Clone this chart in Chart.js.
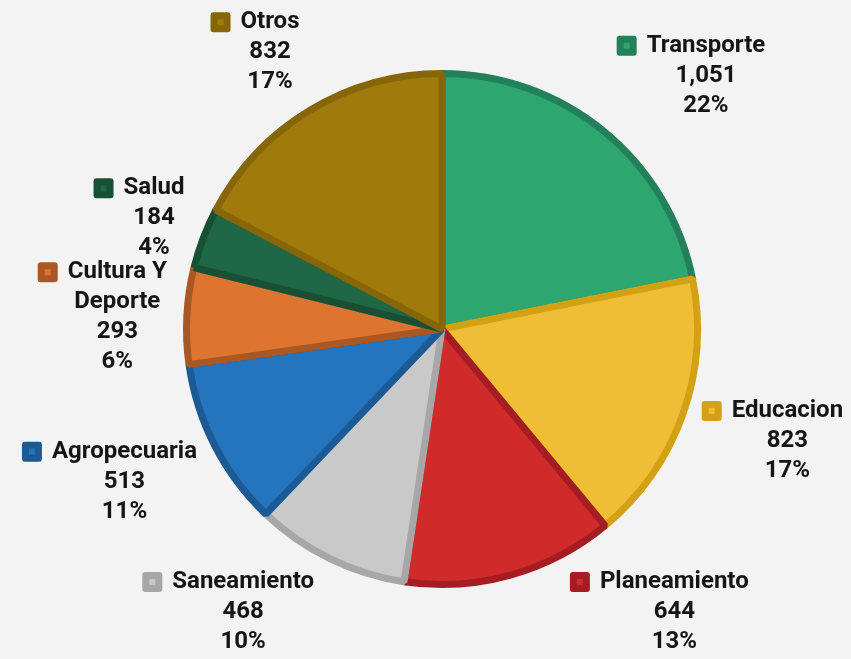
<!DOCTYPE html>
<html>
<head>
<meta charset="utf-8">
<script src="https://cdn.jsdelivr.net/npm/chart.js@4/dist/chart.umd.min.js"></script>
<style>
  html, body { margin: 0; padding: 0; background: #f3f3f3; }
  #wrap { width: 851px; height: 659px; }
  canvas { display: block; }
</style>
</head>
<body>
<div id="wrap"><canvas id="c" width="851" height="659"></canvas></div>
<script>
const categories = ['Transporte', 'Educacion', 'Planeamiento', 'Saneamiento', 'Agropecuaria', 'Cultura Y Deporte', 'Salud', 'Otros'];
const values = [1051, 823, 644, 468, 513, 293, 184, 832];
const fillColors = ['#2ea66f', '#efbe34', '#d02a2a', '#c9c9c9', '#2475bd', '#dd7530', '#1f6745', '#a17a0c'];
const borderColors = ['#22805a', '#d3a114', '#a31d22', '#a7a7a7', '#1c5a96', '#a95723', '#175035', '#876609'];

const FONT = 'bold 24px Roboto, "DejaVu Sans", sans-serif';
const LINE_H = 30;
const MAX_NAME_W = 160;

function wrapText(ctx, text, maxW) {
  const words = text.split(' ');
  const lines = [];
  let cur = '';
  words.forEach(w => {
    const t = cur ? cur + ' ' + w : w;
    if (cur && ctx.measureText(t).width > maxW) { lines.push(cur); cur = w; }
    else cur = t;
  });
  if (cur) lines.push(cur);
  return lines;
}

function roundRect(ctx, x, y, w, h, r) {
  ctx.beginPath();
  ctx.moveTo(x + r, y);
  ctx.lineTo(x + w - r, y);
  ctx.quadraticCurveTo(x + w, y, x + w, y + r);
  ctx.lineTo(x + w, y + h - r);
  ctx.quadraticCurveTo(x + w, y + h, x + w - r, y + h);
  ctx.lineTo(x + r, y + h);
  ctx.quadraticCurveTo(x, y + h, x, y + h - r);
  ctx.lineTo(x, y + r);
  ctx.quadraticCurveTo(x, y, x + r, y);
  ctx.closePath();
}

const outsideLabels = {
  id: 'outsideLabels',
  afterDatasetsDraw(chart) {
    const ctx = chart.ctx;
    const meta = chart.getDatasetMeta(0);
    const data = chart.data.datasets[0].data;
    const total = data.reduce((a, b) => a + b, 0);
    const H = chart.height;
    ctx.save();
    ctx.font = FONT;
    ctx.textBaseline = 'middle';
    ctx.textAlign = 'center';
    meta.data.forEach((arc, i) => {
      const p = arc.getProps(['x', 'y', 'startAngle', 'endAngle', 'outerRadius'], true);
      const nameLines = wrapText(ctx, chart.data.labels[i], MAX_NAME_W);
      const lines = nameLines.concat([data[i].toLocaleString('en-US'), Math.round(data[i] / total * 100) + '%']);
      const widths = lines.map(l => ctx.measureText(l).width);
      const colW = Math.max(...widths);
      const nameW = widths[0];
      const offLeft = Math.max(colW / 2, nameW / 2 + 30);
      const bw = offLeft + colW / 2;
      const bh = (lines.length - 1) * LINE_H + 22;
      const d = p.outerRadius + 20;
      let mid = (p.startAngle + p.endAngle) / 2;
      const place = (a) => {
        const ux = Math.cos(a), uy = Math.sin(a);
        const ax = p.x + d * ux, ay = p.y + d * uy;
        const fx = Math.min(1, Math.max(0, 0.5 - 1.0 * ux));
        const fy = Math.min(1, Math.max(0, 0.45 - 0.55 * uy - 0.25 * uy * uy * uy));
        return { left: ax - fx * bw, top: ay - fy * bh, ux, uy };
      };
      let b = place(mid);
      let guard = 0;
      while ((b.top < 10 || b.top + bh > H - 6) && guard < 360) {
        const dir = (b.ux >= 0 ? -1 : 1) * (b.uy >= 0 ? 1 : -1);
        mid += dir * Math.PI / 360;
        b = place(mid);
        guard++;
      }
      const colCenter = b.left + offLeft;
      const firstY = b.top + 11;
      ctx.fillStyle = '#151515';
      lines.forEach((l, k) => ctx.fillText(l, colCenter, firstY + k * LINE_H));
      const mx = colCenter - nameW / 2 - 30;
      const my = firstY - 10;
      ctx.fillStyle = borderColors[i];
      roundRect(ctx, mx, my, 20, 20, 3);
      ctx.fill();
      ctx.fillStyle = fillColors[i];
      ctx.fillRect(mx + 7, my + 7, 6, 6);
    });
    ctx.restore();
  }
};

const bgPlugin = {
  id: 'bg',
  beforeDraw(chart) {
    const ctx = chart.ctx;
    ctx.save();
    ctx.fillStyle = '#f3f3f3';
    ctx.fillRect(0, 0, chart.width, chart.height);
    ctx.restore();
  }
};

new Chart(document.getElementById('c'), {
  type: 'pie',
  data: {
    labels: categories,
    datasets: [{
      data: values,
      backgroundColor: fillColors,
      borderColor: borderColors,
      borderWidth: 7,
      borderJoinStyle: 'bevel'
    }]
  },
  options: {
    responsive: false,
    animation: false,
    layout: { padding: { left: 183, right: 150, top: 70, bottom: 71 } },
    plugins: {
      legend: { display: false },
      tooltip: { enabled: false }
    }
  },
  plugins: [bgPlugin, outsideLabels]
});
</script>
</body>
</html>
